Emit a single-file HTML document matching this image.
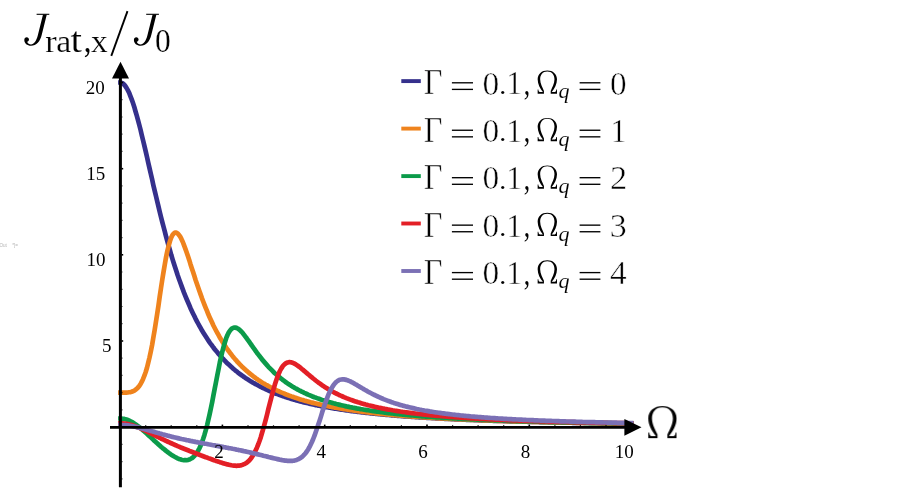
<!DOCTYPE html>
<html><head><meta charset="utf-8"><title>chart</title>
<style>
html,body{margin:0;padding:0;background:#fff;}
body{width:913px;height:489px;overflow:hidden;font-family:"Liberation Serif",serif;}
svg{display:block;position:absolute;left:0;top:0;font-family:"Liberation Serif",serif;}
</style></head><body>
<svg width="913" height="489" viewBox="0 0 913 489">
<rect width="913" height="489" fill="#fff"/>
<path d="M118.1 82.5 L120.1 82.5 L121.4 82.7 L122.7 83.4 L123.9 84.4 L125.2 85.9 L126.5 87.8 L127.8 90.1 L129.1 92.7 L130.3 95.8 L131.6 99.1 L132.9 102.8 L134.2 106.7 L135.4 111.0 L136.7 115.4 L138.0 120.1 L139.3 125.0 L140.6 130.0 L141.8 135.2 L143.1 140.5 L144.4 145.9 L145.7 151.4 L147.0 157.0 L148.2 162.5 L149.5 168.1 L150.8 173.7 L152.1 179.3 L153.3 184.9 L154.6 190.4 L155.9 195.8 L157.2 201.2 L158.5 206.6 L159.7 211.8 L161.0 217.0 L162.3 222.1 L163.6 227.0 L164.9 231.9 L166.1 236.7 L167.4 241.4 L168.7 246.0 L170.0 250.4 L171.2 254.8 L172.5 259.1 L173.8 263.2 L175.1 267.2 L176.4 271.2 L177.6 275.0 L178.9 278.7 L180.2 282.3 L181.5 285.9 L182.8 289.3 L184.0 292.6 L185.3 295.9 L186.6 299.0 L187.9 302.0 L189.2 305.0 L190.4 307.9 L191.7 310.7 L193.0 313.4 L194.3 316.0 L195.5 318.6 L196.8 321.1 L198.1 323.5 L199.4 325.8 L200.7 328.1 L201.9 330.3 L203.2 332.4 L204.5 334.5 L205.8 336.5 L207.1 338.5 L208.3 340.4 L209.6 342.3 L210.9 344.1 L212.2 345.8 L213.4 347.5 L214.7 349.2 L216.0 350.8 L217.3 352.3 L218.6 353.9 L219.8 355.3 L221.1 356.8 L222.4 358.2 L223.7 359.5 L225.0 360.9 L226.2 362.2 L227.5 363.4 L228.8 364.6 L230.1 365.8 L231.4 367.0 L232.6 368.1 L233.9 369.2 L235.2 370.3 L236.5 371.3 L237.7 372.3 L239.0 373.3 L240.3 374.3 L241.6 375.2 L242.9 376.1 L244.1 377.0 L245.4 377.9 L246.7 378.7 L248.0 379.6 L249.3 380.4 L250.5 381.2 L251.8 381.9 L253.1 382.7 L254.4 383.4 L255.6 384.1 L256.9 384.8 L258.2 385.5 L259.5 386.2 L260.8 386.9 L262.0 387.5 L263.3 388.1 L264.6 388.7 L265.9 389.3 L267.2 389.9 L268.4 390.5 L269.7 391.0 L271.0 391.6 L272.3 392.1 L273.5 392.6 L274.8 393.2 L276.1 393.7 L277.4 394.1 L278.7 394.6 L279.9 395.1 L281.2 395.6 L282.5 396.0 L283.8 396.4 L285.1 396.9 L286.3 397.3 L287.6 397.7 L288.9 398.1 L290.2 398.5 L291.5 398.9 L292.7 399.3 L294.0 399.7 L295.3 400.0 L296.6 400.4 L297.8 400.7 L299.1 401.1 L300.4 401.4 L301.7 401.8 L303.0 402.1 L304.2 402.4 L305.5 402.7 L306.8 403.0 L308.1 403.3 L309.4 403.6 L310.6 403.9 L311.9 404.2 L313.2 404.5 L314.5 404.8 L315.7 405.1 L317.0 405.3 L318.3 405.6 L319.6 405.8 L320.9 406.1 L322.1 406.3 L323.4 406.6 L324.7 406.8 L326.0 407.1 L327.3 407.3 L328.5 407.5 L329.8 407.8 L331.1 408.0 L332.4 408.2 L333.7 408.4 L334.9 408.6 L336.2 408.8 L337.5 409.0 L338.8 409.2 L340.0 409.4 L341.3 409.6 L342.6 409.8 L343.9 410.0 L345.2 410.2 L346.4 410.4 L347.7 410.5 L349.0 410.7 L350.3 410.9 L351.6 411.1 L352.8 411.2 L354.1 411.4 L355.4 411.5 L356.7 411.7 L357.9 411.9 L359.2 412.0 L360.5 412.2 L361.8 412.3 L363.1 412.5 L364.3 412.6 L365.6 412.8 L366.9 412.9 L368.2 413.0 L369.5 413.2 L370.7 413.3 L372.0 413.5 L373.3 413.6 L374.6 413.7 L375.9 413.8 L377.1 414.0 L378.4 414.1 L379.7 414.2 L381.0 414.3 L382.2 414.5 L383.5 414.6 L384.8 414.7 L386.1 414.8 L387.4 414.9 L388.6 415.0 L389.9 415.1 L391.2 415.3 L392.5 415.4 L393.8 415.5 L395.0 415.6 L396.3 415.7 L397.6 415.8 L398.9 415.9 L400.1 416.0 L401.4 416.1 L402.7 416.2 L404.0 416.3 L405.3 416.4 L406.5 416.5 L407.8 416.5 L409.1 416.6 L410.4 416.7 L411.7 416.8 L412.9 416.9 L414.2 417.0 L415.5 417.1 L416.8 417.2 L418.0 417.2 L419.3 417.3 L420.6 417.4 L421.9 417.5 L423.2 417.6 L424.4 417.6 L425.7 417.7 L427.0 417.8 L428.3 417.9 L429.6 417.9 L430.8 418.0 L432.1 418.1 L433.4 418.2 L434.7 418.2 L436.0 418.3 L437.2 418.4 L438.5 418.4 L439.8 418.5 L441.1 418.6 L442.3 418.6 L443.6 418.7 L444.9 418.8 L446.2 418.8 L447.5 418.9 L448.7 418.9 L450.0 419.0 L451.3 419.1 L452.6 419.1 L453.9 419.2 L455.1 419.3 L456.4 419.3 L457.7 419.4 L459.0 419.4 L460.2 419.5 L461.5 419.5 L462.8 419.6 L464.1 419.6 L465.4 419.7 L466.6 419.8 L467.9 419.8 L469.2 419.9 L470.5 419.9 L471.8 420.0 L473.0 420.0 L474.3 420.1 L475.6 420.1 L476.9 420.2 L478.1 420.2 L479.4 420.3 L480.7 420.3 L482.0 420.4 L483.3 420.4 L484.5 420.4 L485.8 420.5 L487.1 420.5 L488.4 420.6 L489.7 420.6 L490.9 420.7 L492.2 420.7 L493.5 420.8 L494.8 420.8 L496.1 420.8 L497.3 420.9 L498.6 420.9 L499.9 421.0 L501.2 421.0 L502.4 421.0 L503.7 421.1 L505.0 421.1 L506.3 421.2 L507.6 421.2 L508.8 421.2 L510.1 421.3 L511.4 421.3 L512.7 421.3 L514.0 421.4 L515.2 421.4 L516.5 421.5 L517.8 421.5 L519.1 421.5 L520.3 421.6 L521.6 421.6 L522.9 421.6 L524.2 421.7 L525.5 421.7 L526.7 421.7 L528.0 421.8 L529.3 421.8 L530.6 421.8 L531.9 421.9 L533.1 421.9 L534.4 421.9 L535.7 422.0 L537.0 422.0 L538.3 422.0 L539.5 422.1 L540.8 422.1 L542.1 422.1 L543.4 422.1 L544.6 422.2 L545.9 422.2 L547.2 422.2 L548.5 422.3 L549.8 422.3 L551.0 422.3 L552.3 422.3 L553.6 422.4 L554.9 422.4 L556.2 422.4 L557.4 422.4 L558.7 422.5 L560.0 422.5 L561.3 422.5 L562.5 422.6 L563.8 422.6 L565.1 422.6 L566.4 422.6 L567.7 422.7 L568.9 422.7 L570.2 422.7 L571.5 422.7 L572.8 422.8 L574.1 422.8 L575.3 422.8 L576.6 422.8 L577.9 422.9 L579.2 422.9 L580.4 422.9 L581.7 422.9 L583.0 422.9 L584.3 423.0 L585.6 423.0 L586.8 423.0 L588.1 423.0 L589.4 423.1 L590.7 423.1 L592.0 423.1 L593.2 423.1 L594.5 423.1 L595.8 423.2 L597.1 423.2 L598.4 423.2 L599.6 423.2 L600.9 423.2 L602.2 423.3 L603.5 423.3 L604.7 423.3 L606.0 423.3 L607.3 423.3 L608.6 423.4 L609.9 423.4 L611.1 423.4 L612.4 423.4 L613.7 423.4 L615.0 423.5 L616.3 423.5 L617.5 423.5 L618.8 423.5 L620.1 423.5 L621.4 423.5 L622.6 423.6 L623.9 423.6 L625.2 423.6 L626.5 423.6 L627.8 423.6 L629.0 423.7 L630.3 423.7 L631.6 423.7 L633.5 423.7" fill="none" stroke="#35308c" stroke-width="4.7" stroke-linecap="butt" stroke-linejoin="round"/>
<path d="M118.1 392.6 L120.1 392.6 L121.4 392.6 L122.7 392.6 L123.9 392.6 L125.2 392.6 L126.5 392.6 L127.8 392.5 L129.1 392.3 L130.3 392.1 L131.6 391.8 L132.9 391.3 L134.2 390.7 L135.4 389.9 L136.7 388.8 L138.0 387.5 L139.3 385.9 L140.6 384.0 L141.8 381.7 L143.1 378.9 L144.4 375.7 L145.7 372.0 L147.0 367.7 L148.2 362.9 L149.5 357.5 L150.8 351.5 L152.1 345.0 L153.3 337.9 L154.6 330.3 L155.9 322.2 L157.2 313.9 L158.5 305.3 L159.7 296.6 L161.0 288.0 L162.3 279.5 L163.6 271.5 L164.9 263.9 L166.1 257.0 L167.4 250.8 L168.7 245.5 L170.0 241.1 L171.2 237.6 L172.5 235.0 L173.8 233.4 L175.1 232.6 L176.4 232.6 L177.6 233.4 L178.9 234.8 L180.2 236.7 L181.5 239.2 L182.8 242.0 L184.0 245.2 L185.3 248.6 L186.6 252.3 L187.9 256.1 L189.2 259.9 L190.4 263.9 L191.7 267.9 L193.0 271.8 L194.3 275.8 L195.5 279.7 L196.8 283.5 L198.1 287.3 L199.4 291.0 L200.7 294.6 L201.9 298.1 L203.2 301.5 L204.5 304.9 L205.8 308.1 L207.1 311.2 L208.3 314.3 L209.6 317.2 L210.9 320.0 L212.2 322.8 L213.4 325.5 L214.7 328.0 L216.0 330.5 L217.3 332.9 L218.6 335.2 L219.8 337.5 L221.1 339.6 L222.4 341.7 L223.7 343.8 L225.0 345.7 L226.2 347.6 L227.5 349.5 L228.8 351.2 L230.1 353.0 L231.4 354.6 L232.6 356.2 L233.9 357.8 L235.2 359.3 L236.5 360.7 L237.7 362.2 L239.0 363.5 L240.3 364.9 L241.6 366.2 L242.9 367.4 L244.1 368.6 L245.4 369.8 L246.7 370.9 L248.0 372.0 L249.3 373.1 L250.5 374.2 L251.8 375.2 L253.1 376.2 L254.4 377.1 L255.6 378.1 L256.9 379.0 L258.2 379.9 L259.5 380.7 L260.8 381.6 L262.0 382.4 L263.3 383.2 L264.6 383.9 L265.9 384.7 L267.2 385.4 L268.4 386.1 L269.7 386.8 L271.0 387.5 L272.3 388.2 L273.5 388.8 L274.8 389.4 L276.1 390.1 L277.4 390.7 L278.7 391.2 L279.9 391.8 L281.2 392.4 L282.5 392.9 L283.8 393.4 L285.1 394.0 L286.3 394.5 L287.6 395.0 L288.9 395.5 L290.2 395.9 L291.5 396.4 L292.7 396.8 L294.0 397.3 L295.3 397.7 L296.6 398.1 L297.8 398.6 L299.1 399.0 L300.4 399.4 L301.7 399.8 L303.0 400.1 L304.2 400.5 L305.5 400.9 L306.8 401.2 L308.1 401.6 L309.4 401.9 L310.6 402.3 L311.9 402.6 L313.2 402.9 L314.5 403.2 L315.7 403.5 L317.0 403.8 L318.3 404.1 L319.6 404.4 L320.9 404.7 L322.1 405.0 L323.4 405.3 L324.7 405.6 L326.0 405.8 L327.3 406.1 L328.5 406.3 L329.8 406.6 L331.1 406.8 L332.4 407.1 L333.7 407.3 L334.9 407.6 L336.2 407.8 L337.5 408.0 L338.8 408.2 L340.0 408.5 L341.3 408.7 L342.6 408.9 L343.9 409.1 L345.2 409.3 L346.4 409.5 L347.7 409.7 L349.0 409.9 L350.3 410.1 L351.6 410.3 L352.8 410.5 L354.1 410.6 L355.4 410.8 L356.7 411.0 L357.9 411.2 L359.2 411.3 L360.5 411.5 L361.8 411.7 L363.1 411.8 L364.3 412.0 L365.6 412.1 L366.9 412.3 L368.2 412.4 L369.5 412.6 L370.7 412.7 L372.0 412.9 L373.3 413.0 L374.6 413.2 L375.9 413.3 L377.1 413.5 L378.4 413.6 L379.7 413.7 L381.0 413.9 L382.2 414.0 L383.5 414.1 L384.8 414.2 L386.1 414.4 L387.4 414.5 L388.6 414.6 L389.9 414.7 L391.2 414.8 L392.5 414.9 L393.8 415.1 L395.0 415.2 L396.3 415.3 L397.6 415.4 L398.9 415.5 L400.1 415.6 L401.4 415.7 L402.7 415.8 L404.0 415.9 L405.3 416.0 L406.5 416.1 L407.8 416.2 L409.1 416.3 L410.4 416.4 L411.7 416.5 L412.9 416.6 L414.2 416.7 L415.5 416.8 L416.8 416.9 L418.0 416.9 L419.3 417.0 L420.6 417.1 L421.9 417.2 L423.2 417.3 L424.4 417.4 L425.7 417.4 L427.0 417.5 L428.3 417.6 L429.6 417.7 L430.8 417.8 L432.1 417.8 L433.4 417.9 L434.7 418.0 L436.0 418.1 L437.2 418.1 L438.5 418.2 L439.8 418.3 L441.1 418.3 L442.3 418.4 L443.6 418.5 L444.9 418.6 L446.2 418.6 L447.5 418.7 L448.7 418.8 L450.0 418.8 L451.3 418.9 L452.6 418.9 L453.9 419.0 L455.1 419.1 L456.4 419.1 L457.7 419.2 L459.0 419.2 L460.2 419.3 L461.5 419.4 L462.8 419.4 L464.1 419.5 L465.4 419.5 L466.6 419.6 L467.9 419.6 L469.2 419.7 L470.5 419.8 L471.8 419.8 L473.0 419.9 L474.3 419.9 L475.6 420.0 L476.9 420.0 L478.1 420.1 L479.4 420.1 L480.7 420.2 L482.0 420.2 L483.3 420.3 L484.5 420.3 L485.8 420.4 L487.1 420.4 L488.4 420.5 L489.7 420.5 L490.9 420.5 L492.2 420.6 L493.5 420.6 L494.8 420.7 L496.1 420.7 L497.3 420.8 L498.6 420.8 L499.9 420.8 L501.2 420.9 L502.4 420.9 L503.7 421.0 L505.0 421.0 L506.3 421.1 L507.6 421.1 L508.8 421.1 L510.1 421.2 L511.4 421.2 L512.7 421.2 L514.0 421.3 L515.2 421.3 L516.5 421.4 L517.8 421.4 L519.1 421.4 L520.3 421.5 L521.6 421.5 L522.9 421.5 L524.2 421.6 L525.5 421.6 L526.7 421.6 L528.0 421.7 L529.3 421.7 L530.6 421.7 L531.9 421.8 L533.1 421.8 L534.4 421.8 L535.7 421.9 L537.0 421.9 L538.3 421.9 L539.5 422.0 L540.8 422.0 L542.1 422.0 L543.4 422.1 L544.6 422.1 L545.9 422.1 L547.2 422.2 L548.5 422.2 L549.8 422.2 L551.0 422.2 L552.3 422.3 L553.6 422.3 L554.9 422.3 L556.2 422.4 L557.4 422.4 L558.7 422.4 L560.0 422.4 L561.3 422.5 L562.5 422.5 L563.8 422.5 L565.1 422.5 L566.4 422.6 L567.7 422.6 L568.9 422.6 L570.2 422.7 L571.5 422.7 L572.8 422.7 L574.1 422.7 L575.3 422.7 L576.6 422.8 L577.9 422.8 L579.2 422.8 L580.4 422.8 L581.7 422.9 L583.0 422.9 L584.3 422.9 L585.6 422.9 L586.8 423.0 L588.1 423.0 L589.4 423.0 L590.7 423.0 L592.0 423.1 L593.2 423.1 L594.5 423.1 L595.8 423.1 L597.1 423.1 L598.4 423.2 L599.6 423.2 L600.9 423.2 L602.2 423.2 L603.5 423.2 L604.7 423.3 L606.0 423.3 L607.3 423.3 L608.6 423.3 L609.9 423.3 L611.1 423.4 L612.4 423.4 L613.7 423.4 L615.0 423.4 L616.3 423.4 L617.5 423.5 L618.8 423.5 L620.1 423.5 L621.4 423.5 L622.6 423.5 L623.9 423.5 L625.2 423.6 L626.5 423.6 L627.8 423.6 L629.0 423.6 L630.3 423.6 L631.6 423.7 L633.5 423.7" fill="none" stroke="#ef831d" stroke-width="4.7" stroke-linecap="butt" stroke-linejoin="round"/>
<path d="M118.1 418.5 L120.1 418.5 L121.4 418.5 L122.7 418.7 L123.9 418.9 L125.2 419.2 L126.5 419.6 L127.8 420.0 L129.1 420.6 L130.3 421.2 L131.6 421.8 L132.9 422.6 L134.2 423.4 L135.4 424.3 L136.7 425.2 L138.0 426.1 L139.3 427.1 L140.6 428.2 L141.8 429.3 L143.1 430.4 L144.4 431.5 L145.7 432.6 L147.0 433.8 L148.2 435.0 L149.5 436.2 L150.8 437.3 L152.1 438.5 L153.3 439.7 L154.6 440.9 L155.9 442.1 L157.2 443.2 L158.5 444.4 L159.7 445.5 L161.0 446.7 L162.3 447.8 L163.6 448.8 L164.9 449.9 L166.1 450.9 L167.4 451.9 L168.7 452.9 L170.0 453.8 L171.2 454.7 L172.5 455.5 L173.8 456.3 L175.1 457.0 L176.4 457.7 L177.6 458.3 L178.9 458.9 L180.2 459.3 L181.5 459.7 L182.8 460.0 L184.0 460.2 L185.3 460.2 L186.6 460.2 L187.9 460.0 L189.2 459.6 L190.4 459.0 L191.7 458.3 L193.0 457.3 L194.3 456.1 L195.5 454.6 L196.8 452.8 L198.1 450.7 L199.4 448.3 L200.7 445.5 L201.9 442.3 L203.2 438.7 L204.5 434.7 L205.8 430.2 L207.1 425.3 L208.3 420.0 L209.6 414.4 L210.9 408.3 L212.2 402.0 L213.4 395.5 L214.7 388.8 L216.0 382.1 L217.3 375.4 L218.6 368.9 L219.8 362.6 L221.1 356.7 L222.4 351.3 L223.7 346.4 L225.0 342.0 L226.2 338.2 L227.5 335.0 L228.8 332.4 L230.1 330.5 L231.4 329.0 L232.6 328.1 L233.9 327.6 L235.2 327.6 L236.5 327.9 L237.7 328.5 L239.0 329.4 L240.3 330.5 L241.6 331.8 L242.9 333.3 L244.1 334.9 L245.4 336.6 L246.7 338.3 L248.0 340.1 L249.3 341.9 L250.5 343.7 L251.8 345.5 L253.1 347.4 L254.4 349.2 L255.6 350.9 L256.9 352.7 L258.2 354.4 L259.5 356.1 L260.8 357.7 L262.0 359.4 L263.3 360.9 L264.6 362.4 L265.9 363.9 L267.2 365.4 L268.4 366.8 L269.7 368.1 L271.0 369.4 L272.3 370.7 L273.5 372.0 L274.8 373.2 L276.1 374.3 L277.4 375.5 L278.7 376.6 L279.9 377.6 L281.2 378.7 L282.5 379.7 L283.8 380.6 L285.1 381.6 L286.3 382.5 L287.6 383.4 L288.9 384.2 L290.2 385.1 L291.5 385.9 L292.7 386.7 L294.0 387.4 L295.3 388.2 L296.6 388.9 L297.8 389.6 L299.1 390.3 L300.4 390.9 L301.7 391.6 L303.0 392.2 L304.2 392.8 L305.5 393.4 L306.8 394.0 L308.1 394.6 L309.4 395.1 L310.6 395.6 L311.9 396.2 L313.2 396.7 L314.5 397.2 L315.7 397.6 L317.0 398.1 L318.3 398.6 L319.6 399.0 L320.9 399.5 L322.1 399.9 L323.4 400.3 L324.7 400.7 L326.0 401.1 L327.3 401.5 L328.5 401.9 L329.8 402.2 L331.1 402.6 L332.4 402.9 L333.7 403.3 L334.9 403.6 L336.2 404.0 L337.5 404.3 L338.8 404.6 L340.0 404.9 L341.3 405.2 L342.6 405.5 L343.9 405.8 L345.2 406.1 L346.4 406.4 L347.7 406.6 L349.0 406.9 L350.3 407.2 L351.6 407.4 L352.8 407.7 L354.1 407.9 L355.4 408.1 L356.7 408.4 L357.9 408.6 L359.2 408.8 L360.5 409.1 L361.8 409.3 L363.1 409.5 L364.3 409.7 L365.6 409.9 L366.9 410.1 L368.2 410.3 L369.5 410.5 L370.7 410.7 L372.0 410.9 L373.3 411.1 L374.6 411.3 L375.9 411.4 L377.1 411.6 L378.4 411.8 L379.7 412.0 L381.0 412.1 L382.2 412.3 L383.5 412.5 L384.8 412.6 L386.1 412.8 L387.4 412.9 L388.6 413.1 L389.9 413.2 L391.2 413.4 L392.5 413.5 L393.8 413.7 L395.0 413.8 L396.3 413.9 L397.6 414.1 L398.9 414.2 L400.1 414.3 L401.4 414.5 L402.7 414.6 L404.0 414.7 L405.3 414.8 L406.5 415.0 L407.8 415.1 L409.1 415.2 L410.4 415.3 L411.7 415.4 L412.9 415.5 L414.2 415.6 L415.5 415.7 L416.8 415.9 L418.0 416.0 L419.3 416.1 L420.6 416.2 L421.9 416.3 L423.2 416.4 L424.4 416.5 L425.7 416.6 L427.0 416.7 L428.3 416.8 L429.6 416.8 L430.8 416.9 L432.1 417.0 L433.4 417.1 L434.7 417.2 L436.0 417.3 L437.2 417.4 L438.5 417.5 L439.8 417.5 L441.1 417.6 L442.3 417.7 L443.6 417.8 L444.9 417.9 L446.2 417.9 L447.5 418.0 L448.7 418.1 L450.0 418.2 L451.3 418.2 L452.6 418.3 L453.9 418.4 L455.1 418.5 L456.4 418.5 L457.7 418.6 L459.0 418.7 L460.2 418.7 L461.5 418.8 L462.8 418.9 L464.1 418.9 L465.4 419.0 L466.6 419.1 L467.9 419.1 L469.2 419.2 L470.5 419.3 L471.8 419.3 L473.0 419.4 L474.3 419.4 L475.6 419.5 L476.9 419.6 L478.1 419.6 L479.4 419.7 L480.7 419.7 L482.0 419.8 L483.3 419.8 L484.5 419.9 L485.8 419.9 L487.1 420.0 L488.4 420.0 L489.7 420.1 L490.9 420.1 L492.2 420.2 L493.5 420.2 L494.8 420.3 L496.1 420.3 L497.3 420.4 L498.6 420.4 L499.9 420.5 L501.2 420.5 L502.4 420.6 L503.7 420.6 L505.0 420.7 L506.3 420.7 L507.6 420.8 L508.8 420.8 L510.1 420.9 L511.4 420.9 L512.7 420.9 L514.0 421.0 L515.2 421.0 L516.5 421.1 L517.8 421.1 L519.1 421.1 L520.3 421.2 L521.6 421.2 L522.9 421.3 L524.2 421.3 L525.5 421.3 L526.7 421.4 L528.0 421.4 L529.3 421.5 L530.6 421.5 L531.9 421.5 L533.1 421.6 L534.4 421.6 L535.7 421.6 L537.0 421.7 L538.3 421.7 L539.5 421.7 L540.8 421.8 L542.1 421.8 L543.4 421.8 L544.6 421.9 L545.9 421.9 L547.2 421.9 L548.5 422.0 L549.8 422.0 L551.0 422.0 L552.3 422.1 L553.6 422.1 L554.9 422.1 L556.2 422.2 L557.4 422.2 L558.7 422.2 L560.0 422.2 L561.3 422.3 L562.5 422.3 L563.8 422.3 L565.1 422.4 L566.4 422.4 L567.7 422.4 L568.9 422.4 L570.2 422.5 L571.5 422.5 L572.8 422.5 L574.1 422.6 L575.3 422.6 L576.6 422.6 L577.9 422.6 L579.2 422.7 L580.4 422.7 L581.7 422.7 L583.0 422.7 L584.3 422.8 L585.6 422.8 L586.8 422.8 L588.1 422.8 L589.4 422.9 L590.7 422.9 L592.0 422.9 L593.2 422.9 L594.5 422.9 L595.8 423.0 L597.1 423.0 L598.4 423.0 L599.6 423.0 L600.9 423.1 L602.2 423.1 L603.5 423.1 L604.7 423.1 L606.0 423.2 L607.3 423.2 L608.6 423.2 L609.9 423.2 L611.1 423.2 L612.4 423.3 L613.7 423.3 L615.0 423.3 L616.3 423.3 L617.5 423.3 L618.8 423.4 L620.1 423.4 L621.4 423.4 L622.6 423.4 L623.9 423.4 L625.2 423.5 L626.5 423.5 L627.8 423.5 L629.0 423.5 L630.3 423.5 L631.6 423.5 L633.5 423.5" fill="none" stroke="#0b9b4a" stroke-width="4.7" stroke-linecap="butt" stroke-linejoin="round"/>
<path d="M118.1 423.3 L120.1 423.3 L121.4 423.3 L122.7 423.4 L123.9 423.5 L125.2 423.6 L126.5 423.8 L127.8 424.1 L129.1 424.4 L130.3 424.7 L131.6 425.1 L132.9 425.5 L134.2 425.9 L135.4 426.4 L136.7 426.8 L138.0 427.4 L139.3 427.9 L140.6 428.4 L141.8 429.0 L143.1 429.6 L144.4 430.2 L145.7 430.8 L147.0 431.4 L148.2 432.1 L149.5 432.7 L150.8 433.4 L152.1 434.0 L153.3 434.6 L154.6 435.3 L155.9 435.9 L157.2 436.6 L158.5 437.2 L159.7 437.8 L161.0 438.5 L162.3 439.1 L163.6 439.7 L164.9 440.3 L166.1 440.9 L167.4 441.5 L168.7 442.1 L170.0 442.7 L171.2 443.3 L172.5 443.8 L173.8 444.4 L175.1 445.0 L176.4 445.5 L177.6 446.1 L178.9 446.6 L180.2 447.2 L181.5 447.7 L182.8 448.2 L184.0 448.8 L185.3 449.3 L186.6 449.8 L187.9 450.3 L189.2 450.8 L190.4 451.3 L191.7 451.8 L193.0 452.3 L194.3 452.8 L195.5 453.3 L196.8 453.8 L198.1 454.3 L199.4 454.8 L200.7 455.3 L201.9 455.7 L203.2 456.2 L204.5 456.7 L205.8 457.2 L207.1 457.6 L208.3 458.1 L209.6 458.6 L210.9 459.0 L212.2 459.5 L213.4 460.0 L214.7 460.4 L216.0 460.9 L217.3 461.3 L218.6 461.7 L219.8 462.2 L221.1 462.6 L222.4 463.0 L223.7 463.4 L225.0 463.7 L226.2 464.1 L227.5 464.4 L228.8 464.7 L230.1 465.0 L231.4 465.3 L232.6 465.5 L233.9 465.6 L235.2 465.7 L236.5 465.8 L237.7 465.7 L239.0 465.6 L240.3 465.4 L241.6 465.1 L242.9 464.7 L244.1 464.2 L245.4 463.5 L246.7 462.7 L248.0 461.6 L249.3 460.4 L250.5 459.0 L251.8 457.3 L253.1 455.3 L254.4 453.1 L255.6 450.5 L256.9 447.7 L258.2 444.5 L259.5 441.0 L260.8 437.2 L262.0 433.0 L263.3 428.6 L264.6 423.9 L265.9 419.1 L267.2 414.0 L268.4 408.9 L269.7 403.8 L271.0 398.8 L272.3 393.9 L273.5 389.2 L274.8 384.8 L276.1 380.8 L277.4 377.1 L278.7 373.8 L279.9 371.0 L281.2 368.6 L282.5 366.6 L283.8 365.0 L285.1 363.9 L286.3 363.0 L287.6 362.5 L288.9 362.2 L290.2 362.2 L291.5 362.4 L292.7 362.8 L294.0 363.4 L295.3 364.1 L296.6 364.9 L297.8 365.8 L299.1 366.7 L300.4 367.7 L301.7 368.8 L303.0 369.8 L304.2 370.9 L305.5 372.0 L306.8 373.1 L308.1 374.2 L309.4 375.3 L310.6 376.4 L311.9 377.4 L313.2 378.5 L314.5 379.5 L315.7 380.5 L317.0 381.5 L318.3 382.5 L319.6 383.4 L320.9 384.3 L322.1 385.2 L323.4 386.1 L324.7 386.9 L326.0 387.7 L327.3 388.5 L328.5 389.3 L329.8 390.0 L331.1 390.8 L332.4 391.5 L333.7 392.2 L334.9 392.9 L336.2 393.5 L337.5 394.1 L338.8 394.8 L340.0 395.4 L341.3 395.9 L342.6 396.5 L343.9 397.1 L345.2 397.6 L346.4 398.1 L347.7 398.6 L349.0 399.1 L350.3 399.6 L351.6 400.1 L352.8 400.5 L354.1 401.0 L355.4 401.4 L356.7 401.8 L357.9 402.2 L359.2 402.6 L360.5 403.0 L361.8 403.4 L363.1 403.8 L364.3 404.1 L365.6 404.5 L366.9 404.8 L368.2 405.2 L369.5 405.5 L370.7 405.8 L372.0 406.1 L373.3 406.4 L374.6 406.7 L375.9 407.0 L377.1 407.3 L378.4 407.6 L379.7 407.8 L381.0 408.1 L382.2 408.4 L383.5 408.6 L384.8 408.9 L386.1 409.1 L387.4 409.4 L388.6 409.6 L389.9 409.8 L391.2 410.0 L392.5 410.3 L393.8 410.5 L395.0 410.7 L396.3 410.9 L397.6 411.1 L398.9 411.3 L400.1 411.5 L401.4 411.7 L402.7 411.9 L404.0 412.0 L405.3 412.2 L406.5 412.4 L407.8 412.6 L409.1 412.7 L410.4 412.9 L411.7 413.1 L412.9 413.2 L414.2 413.4 L415.5 413.5 L416.8 413.7 L418.0 413.8 L419.3 414.0 L420.6 414.1 L421.9 414.3 L423.2 414.4 L424.4 414.6 L425.7 414.7 L427.0 414.8 L428.3 414.9 L429.6 415.1 L430.8 415.2 L432.1 415.3 L433.4 415.4 L434.7 415.6 L436.0 415.7 L437.2 415.8 L438.5 415.9 L439.8 416.0 L441.1 416.1 L442.3 416.2 L443.6 416.3 L444.9 416.5 L446.2 416.6 L447.5 416.7 L448.7 416.8 L450.0 416.9 L451.3 417.0 L452.6 417.0 L453.9 417.1 L455.1 417.2 L456.4 417.3 L457.7 417.4 L459.0 417.5 L460.2 417.6 L461.5 417.7 L462.8 417.8 L464.1 417.8 L465.4 417.9 L466.6 418.0 L467.9 418.1 L469.2 418.2 L470.5 418.3 L471.8 418.3 L473.0 418.4 L474.3 418.5 L475.6 418.6 L476.9 418.6 L478.1 418.7 L479.4 418.8 L480.7 418.8 L482.0 418.9 L483.3 419.0 L484.5 419.0 L485.8 419.1 L487.1 419.2 L488.4 419.2 L489.7 419.3 L490.9 419.4 L492.2 419.4 L493.5 419.5 L494.8 419.6 L496.1 419.6 L497.3 419.7 L498.6 419.7 L499.9 419.8 L501.2 419.8 L502.4 419.9 L503.7 420.0 L505.0 420.0 L506.3 420.1 L507.6 420.1 L508.8 420.2 L510.1 420.2 L511.4 420.3 L512.7 420.3 L514.0 420.4 L515.2 420.4 L516.5 420.5 L517.8 420.5 L519.1 420.6 L520.3 420.6 L521.6 420.7 L522.9 420.7 L524.2 420.8 L525.5 420.8 L526.7 420.9 L528.0 420.9 L529.3 420.9 L530.6 421.0 L531.9 421.0 L533.1 421.1 L534.4 421.1 L535.7 421.2 L537.0 421.2 L538.3 421.2 L539.5 421.3 L540.8 421.3 L542.1 421.4 L543.4 421.4 L544.6 421.4 L545.9 421.5 L547.2 421.5 L548.5 421.6 L549.8 421.6 L551.0 421.6 L552.3 421.7 L553.6 421.7 L554.9 421.7 L556.2 421.8 L557.4 421.8 L558.7 421.8 L560.0 421.9 L561.3 421.9 L562.5 421.9 L563.8 422.0 L565.1 422.0 L566.4 422.0 L567.7 422.1 L568.9 422.1 L570.2 422.1 L571.5 422.2 L572.8 422.2 L574.1 422.2 L575.3 422.3 L576.6 422.3 L577.9 422.3 L579.2 422.4 L580.4 422.4 L581.7 422.4 L583.0 422.4 L584.3 422.5 L585.6 422.5 L586.8 422.5 L588.1 422.5 L589.4 422.6 L590.7 422.6 L592.0 422.6 L593.2 422.7 L594.5 422.7 L595.8 422.7 L597.1 422.7 L598.4 422.8 L599.6 422.8 L600.9 422.8 L602.2 422.8 L603.5 422.9 L604.7 422.9 L606.0 422.9 L607.3 422.9 L608.6 423.0 L609.9 423.0 L611.1 423.0 L612.4 423.0 L613.7 423.1 L615.0 423.1 L616.3 423.1 L617.5 423.1 L618.8 423.1 L620.1 423.2 L621.4 423.2 L622.6 423.2 L623.9 423.2 L625.2 423.3 L626.5 423.3 L627.8 423.3 L629.0 423.3 L630.3 423.3 L631.6 423.4 L633.5 423.4" fill="none" stroke="#e31f26" stroke-width="4.7" stroke-linecap="butt" stroke-linejoin="round"/>
<path d="M118.1 424.9 L120.1 424.9 L121.4 425.0 L122.7 425.0 L123.9 425.1 L125.2 425.2 L126.5 425.3 L127.8 425.4 L129.1 425.6 L130.3 425.8 L131.6 426.0 L132.9 426.2 L134.2 426.5 L135.4 426.8 L136.7 427.1 L138.0 427.4 L139.3 427.7 L140.6 428.0 L141.8 428.4 L143.1 428.7 L144.4 429.1 L145.7 429.4 L147.0 429.8 L148.2 430.2 L149.5 430.5 L150.8 430.9 L152.1 431.3 L153.3 431.6 L154.6 432.0 L155.9 432.4 L157.2 432.8 L158.5 433.1 L159.7 433.5 L161.0 433.8 L162.3 434.2 L163.6 434.5 L164.9 434.9 L166.1 435.2 L167.4 435.6 L168.7 435.9 L170.0 436.2 L171.2 436.6 L172.5 436.9 L173.8 437.2 L175.1 437.5 L176.4 437.8 L177.6 438.1 L178.9 438.4 L180.2 438.7 L181.5 439.0 L182.8 439.2 L184.0 439.5 L185.3 439.8 L186.6 440.1 L187.9 440.3 L189.2 440.6 L190.4 440.9 L191.7 441.1 L193.0 441.4 L194.3 441.6 L195.5 441.9 L196.8 442.1 L198.1 442.4 L199.4 442.6 L200.7 442.8 L201.9 443.1 L203.2 443.3 L204.5 443.6 L205.8 443.8 L207.1 444.0 L208.3 444.3 L209.6 444.5 L210.9 444.7 L212.2 445.0 L213.4 445.2 L214.7 445.4 L216.0 445.7 L217.3 445.9 L218.6 446.1 L219.8 446.4 L221.1 446.6 L222.4 446.8 L223.7 447.1 L225.0 447.3 L226.2 447.6 L227.5 447.8 L228.8 448.1 L230.1 448.3 L231.4 448.5 L232.6 448.8 L233.9 449.0 L235.2 449.3 L236.5 449.6 L237.7 449.8 L239.0 450.1 L240.3 450.3 L241.6 450.6 L242.9 450.9 L244.1 451.2 L245.4 451.4 L246.7 451.7 L248.0 452.0 L249.3 452.3 L250.5 452.6 L251.8 452.9 L253.1 453.2 L254.4 453.5 L255.6 453.8 L256.9 454.1 L258.2 454.4 L259.5 454.7 L260.8 455.0 L262.0 455.3 L263.3 455.7 L264.6 456.0 L265.9 456.3 L267.2 456.6 L268.4 457.0 L269.7 457.3 L271.0 457.6 L272.3 457.9 L273.5 458.2 L274.8 458.5 L276.1 458.8 L277.4 459.1 L278.7 459.4 L279.9 459.7 L281.2 459.9 L282.5 460.2 L283.8 460.4 L285.1 460.6 L286.3 460.7 L287.6 460.8 L288.9 460.9 L290.2 460.9 L291.5 460.9 L292.7 460.8 L294.0 460.6 L295.3 460.3 L296.6 459.9 L297.8 459.4 L299.1 458.8 L300.4 458.0 L301.7 457.1 L303.0 456.0 L304.2 454.7 L305.5 453.2 L306.8 451.5 L308.1 449.5 L309.4 447.2 L310.6 444.7 L311.9 442.0 L313.2 439.0 L314.5 435.7 L315.7 432.2 L317.0 428.5 L318.3 424.6 L319.6 420.7 L320.9 416.6 L322.1 412.6 L323.4 408.6 L324.7 404.8 L326.0 401.1 L327.3 397.7 L328.5 394.5 L329.8 391.6 L331.1 389.1 L332.4 386.8 L333.7 384.9 L334.9 383.3 L336.2 382.0 L337.5 381.0 L338.8 380.2 L340.0 379.7 L341.3 379.5 L342.6 379.3 L343.9 379.4 L345.2 379.6 L346.4 379.9 L347.7 380.3 L349.0 380.9 L350.3 381.4 L351.6 382.1 L352.8 382.7 L354.1 383.4 L355.4 384.2 L356.7 384.9 L357.9 385.7 L359.2 386.4 L360.5 387.2 L361.8 388.0 L363.1 388.7 L364.3 389.5 L365.6 390.2 L366.9 390.9 L368.2 391.7 L369.5 392.4 L370.7 393.0 L372.0 393.7 L373.3 394.4 L374.6 395.0 L375.9 395.6 L377.1 396.3 L378.4 396.8 L379.7 397.4 L381.0 398.0 L382.2 398.5 L383.5 399.1 L384.8 399.6 L386.1 400.1 L387.4 400.6 L388.6 401.1 L389.9 401.5 L391.2 402.0 L392.5 402.4 L393.8 402.9 L395.0 403.3 L396.3 403.7 L397.6 404.1 L398.9 404.5 L400.1 404.9 L401.4 405.2 L402.7 405.6 L404.0 405.9 L405.3 406.3 L406.5 406.6 L407.8 406.9 L409.1 407.2 L410.4 407.5 L411.7 407.8 L412.9 408.1 L414.2 408.4 L415.5 408.7 L416.8 409.0 L418.0 409.2 L419.3 409.5 L420.6 409.7 L421.9 410.0 L423.2 410.2 L424.4 410.5 L425.7 410.7 L427.0 410.9 L428.3 411.1 L429.6 411.4 L430.8 411.6 L432.1 411.8 L433.4 412.0 L434.7 412.2 L436.0 412.4 L437.2 412.5 L438.5 412.7 L439.8 412.9 L441.1 413.1 L442.3 413.3 L443.6 413.4 L444.9 413.6 L446.2 413.8 L447.5 413.9 L448.7 414.1 L450.0 414.2 L451.3 414.4 L452.6 414.5 L453.9 414.7 L455.1 414.8 L456.4 415.0 L457.7 415.1 L459.0 415.2 L460.2 415.4 L461.5 415.5 L462.8 415.6 L464.1 415.8 L465.4 415.9 L466.6 416.0 L467.9 416.1 L469.2 416.2 L470.5 416.4 L471.8 416.5 L473.0 416.6 L474.3 416.7 L475.6 416.8 L476.9 416.9 L478.1 417.0 L479.4 417.1 L480.7 417.2 L482.0 417.3 L483.3 417.4 L484.5 417.5 L485.8 417.6 L487.1 417.7 L488.4 417.8 L489.7 417.9 L490.9 418.0 L492.2 418.0 L493.5 418.1 L494.8 418.2 L496.1 418.3 L497.3 418.4 L498.6 418.5 L499.9 418.5 L501.2 418.6 L502.4 418.7 L503.7 418.8 L505.0 418.8 L506.3 418.9 L507.6 419.0 L508.8 419.1 L510.1 419.1 L511.4 419.2 L512.7 419.3 L514.0 419.3 L515.2 419.4 L516.5 419.5 L517.8 419.5 L519.1 419.6 L520.3 419.7 L521.6 419.7 L522.9 419.8 L524.2 419.8 L525.5 419.9 L526.7 420.0 L528.0 420.0 L529.3 420.1 L530.6 420.1 L531.9 420.2 L533.1 420.2 L534.4 420.3 L535.7 420.4 L537.0 420.4 L538.3 420.5 L539.5 420.5 L540.8 420.6 L542.1 420.6 L543.4 420.7 L544.6 420.7 L545.9 420.8 L547.2 420.8 L548.5 420.9 L549.8 420.9 L551.0 420.9 L552.3 421.0 L553.6 421.0 L554.9 421.1 L556.2 421.1 L557.4 421.2 L558.7 421.2 L560.0 421.3 L561.3 421.3 L562.5 421.3 L563.8 421.4 L565.1 421.4 L566.4 421.5 L567.7 421.5 L568.9 421.5 L570.2 421.6 L571.5 421.6 L572.8 421.7 L574.1 421.7 L575.3 421.7 L576.6 421.8 L577.9 421.8 L579.2 421.8 L580.4 421.9 L581.7 421.9 L583.0 422.0 L584.3 422.0 L585.6 422.0 L586.8 422.1 L588.1 422.1 L589.4 422.1 L590.7 422.2 L592.0 422.2 L593.2 422.2 L594.5 422.2 L595.8 422.3 L597.1 422.3 L598.4 422.3 L599.6 422.4 L600.9 422.4 L602.2 422.4 L603.5 422.5 L604.7 422.5 L606.0 422.5 L607.3 422.6 L608.6 422.6 L609.9 422.6 L611.1 422.6 L612.4 422.7 L613.7 422.7 L615.0 422.7 L616.3 422.7 L617.5 422.8 L618.8 422.8 L620.1 422.8 L621.4 422.8 L622.6 422.9 L623.9 422.9 L625.2 422.9 L626.5 422.9 L627.8 423.0 L629.0 423.0 L630.3 423.0 L631.6 423.0 L633.5 423.0" fill="none" stroke="#7b70b5" stroke-width="4.7" stroke-linecap="butt" stroke-linejoin="round"/>
<line x1="120.4" y1="78" x2="120.4" y2="487.3" stroke="#000" stroke-width="3"/>
<line x1="110" y1="427.3" x2="625" y2="427.3" stroke="#000" stroke-width="2.8"/>
<polygon points="120.5,61.8 112,78.6 129,78.6" fill="#000"/>
<polygon points="641.5,427.3 624.4,418.9 624.4,435.7" fill="#000"/>
<line x1="145.7" y1="426.2" x2="145.7" y2="425.3" stroke="#000" stroke-width="1.2"/>
<line x1="171.2" y1="426.2" x2="171.2" y2="425.3" stroke="#000" stroke-width="1.2"/>
<line x1="196.8" y1="426.2" x2="196.8" y2="425.3" stroke="#000" stroke-width="1.2"/>
<line x1="222.4" y1="426.2" x2="222.4" y2="424.6" stroke="#000" stroke-width="1.6"/>
<line x1="248.0" y1="426.2" x2="248.0" y2="425.3" stroke="#000" stroke-width="1.2"/>
<line x1="273.5" y1="426.2" x2="273.5" y2="425.3" stroke="#000" stroke-width="1.2"/>
<line x1="299.1" y1="426.2" x2="299.1" y2="425.3" stroke="#000" stroke-width="1.2"/>
<line x1="324.7" y1="426.2" x2="324.7" y2="424.6" stroke="#000" stroke-width="1.6"/>
<line x1="350.3" y1="426.2" x2="350.3" y2="425.3" stroke="#000" stroke-width="1.2"/>
<line x1="375.9" y1="426.2" x2="375.9" y2="425.3" stroke="#000" stroke-width="1.2"/>
<line x1="401.4" y1="426.2" x2="401.4" y2="425.3" stroke="#000" stroke-width="1.2"/>
<line x1="427.0" y1="426.2" x2="427.0" y2="424.6" stroke="#000" stroke-width="1.6"/>
<line x1="452.6" y1="426.2" x2="452.6" y2="425.3" stroke="#000" stroke-width="1.2"/>
<line x1="478.1" y1="426.2" x2="478.1" y2="425.3" stroke="#000" stroke-width="1.2"/>
<line x1="503.7" y1="426.2" x2="503.7" y2="425.3" stroke="#000" stroke-width="1.2"/>
<line x1="529.3" y1="426.2" x2="529.3" y2="424.6" stroke="#000" stroke-width="1.6"/>
<line x1="554.9" y1="426.2" x2="554.9" y2="425.3" stroke="#000" stroke-width="1.2"/>
<line x1="580.4" y1="426.2" x2="580.4" y2="425.3" stroke="#000" stroke-width="1.2"/>
<line x1="606.0" y1="426.2" x2="606.0" y2="425.3" stroke="#000" stroke-width="1.2"/>
<line x1="121.6" y1="478.8" x2="122.4" y2="478.8" stroke="#000" stroke-width="1.2"/>
<line x1="121.6" y1="461.6" x2="122.4" y2="461.6" stroke="#000" stroke-width="1.2"/>
<line x1="121.6" y1="444.3" x2="122.4" y2="444.3" stroke="#000" stroke-width="1.2"/>
<line x1="121.6" y1="409.9" x2="122.4" y2="409.9" stroke="#000" stroke-width="1.2"/>
<line x1="121.6" y1="392.6" x2="122.4" y2="392.6" stroke="#000" stroke-width="1.2"/>
<line x1="121.6" y1="375.4" x2="122.4" y2="375.4" stroke="#000" stroke-width="1.2"/>
<line x1="121.6" y1="358.2" x2="122.4" y2="358.2" stroke="#000" stroke-width="1.2"/>
<line x1="121.6" y1="341.0" x2="123.2" y2="341.0" stroke="#000" stroke-width="1.6"/>
<line x1="121.6" y1="323.7" x2="122.4" y2="323.7" stroke="#000" stroke-width="1.2"/>
<line x1="121.6" y1="306.5" x2="122.4" y2="306.5" stroke="#000" stroke-width="1.2"/>
<line x1="121.6" y1="289.3" x2="122.4" y2="289.3" stroke="#000" stroke-width="1.2"/>
<line x1="121.6" y1="272.0" x2="122.4" y2="272.0" stroke="#000" stroke-width="1.2"/>
<line x1="121.6" y1="254.8" x2="123.2" y2="254.8" stroke="#000" stroke-width="1.6"/>
<line x1="121.6" y1="237.6" x2="122.4" y2="237.6" stroke="#000" stroke-width="1.2"/>
<line x1="121.6" y1="220.3" x2="122.4" y2="220.3" stroke="#000" stroke-width="1.2"/>
<line x1="121.6" y1="203.1" x2="122.4" y2="203.1" stroke="#000" stroke-width="1.2"/>
<line x1="121.6" y1="185.9" x2="122.4" y2="185.9" stroke="#000" stroke-width="1.2"/>
<line x1="121.6" y1="168.7" x2="123.2" y2="168.7" stroke="#000" stroke-width="1.6"/>
<line x1="121.6" y1="151.4" x2="122.4" y2="151.4" stroke="#000" stroke-width="1.2"/>
<line x1="121.6" y1="134.2" x2="122.4" y2="134.2" stroke="#000" stroke-width="1.2"/>
<line x1="121.6" y1="117.0" x2="122.4" y2="117.0" stroke="#000" stroke-width="1.2"/>
<line x1="121.6" y1="99.7" x2="122.4" y2="99.7" stroke="#000" stroke-width="1.2"/>
<line x1="121.6" y1="82.5" x2="123.2" y2="82.5" stroke="#000" stroke-width="1.6"/>
<g opacity="0.999">
<text x="219.05" y="458.2" font-size="19" text-anchor="middle">2</text>
<text x="321.25" y="458.2" font-size="19" text-anchor="middle">4</text>
<text x="423.0" y="458.2" font-size="19" text-anchor="middle">6</text>
<text x="525.5" y="458.2" font-size="19" text-anchor="middle">8</text>
<text x="624.3" y="458.2" font-size="19" text-anchor="middle">10</text>
<text x="95.2" y="93.8" font-size="19" text-anchor="middle">20</text>
<text x="95.8" y="180.0" font-size="19" text-anchor="middle">15</text>
<text x="95.9" y="266.1" font-size="19" text-anchor="middle">10</text>
<text x="106.85" y="352.3" font-size="19" text-anchor="middle">5</text>
<line x1="401.3" y1="81.1" x2="420.8" y2="81.1" stroke="#35308c" stroke-width="3.9"/>
<text transform="matrix(0.8074 0 0 0.8782 423.67 94.30)" font-size="40" fill="#000" stroke="#fff" stroke-width="0.59">Γ</text>
<rect x="451.9" y="82.12" width="21.1" height="1.35" fill="#000"/>
<rect x="451.9" y="88.72" width="21.1" height="1.35" fill="#000"/>
<rect x="579.6" y="82.12" width="20.8" height="1.35" fill="#000"/>
<rect x="579.6" y="88.72" width="20.8" height="1.35" fill="#000"/>
<text transform="matrix(0.8376 0 0 0.8632 482.42 94.56)" font-size="40" fill="#000" stroke="#fff" stroke-width="0.59">0</text>
<text transform="matrix(0.6982 0 0 0.6347 499.16 94.04)" font-size="40" fill="#000">.</text>
<text transform="matrix(0.7953 0 0 0.8445 506.20 94.30)" font-size="40" fill="#000" stroke="#fff" stroke-width="0.61">1</text>
<text transform="matrix(0.6379 0 0 0.8663 523.83 94.77)" font-size="40" fill="#000">,</text>
<path aria-label="Ω" transform="matrix(0.0900 0 0 0.0901 530.00 64.01)" d="M85 330 L85 283 L93 283 C94 301 98 311 110 311 L143 311 C112 272 85 225 85 170 C85 110 130 72 192 72 C254 72 300 110 300 170 C300 225 273 272 242 311 L275 311 C287 311 291 301 292 283 L300 283 L300 330 L230 330 L230 300 C245 262 272 222 272 170 C272 120 245 82 192 82 C140 82 113 120 113 170 C113 222 140 262 155 300 L155 330 Z" fill="#000"/>
<text transform="matrix(0.5515 0 0 0.5401 558.53 98.24)" font-size="40" font-style="italic" fill="#000" stroke="#fff" stroke-width="0.18">q</text>
<text transform="matrix(0.8317 0 0 0.8632 610.03 94.56)" font-size="40" fill="#000" stroke="#fff" stroke-width="0.59">0</text>
<line x1="401.3" y1="128.6" x2="420.8" y2="128.6" stroke="#ef831d" stroke-width="3.9"/>
<text transform="matrix(0.8074 0 0 0.8782 423.67 141.75)" font-size="40" fill="#000" stroke="#fff" stroke-width="0.59">Γ</text>
<rect x="451.9" y="129.57" width="21.1" height="1.35" fill="#000"/>
<rect x="451.9" y="136.17" width="21.1" height="1.35" fill="#000"/>
<rect x="579.6" y="129.57" width="20.8" height="1.35" fill="#000"/>
<rect x="579.6" y="136.17" width="20.8" height="1.35" fill="#000"/>
<text transform="matrix(0.8376 0 0 0.8632 482.42 142.01)" font-size="40" fill="#000" stroke="#fff" stroke-width="0.59">0</text>
<text transform="matrix(0.6982 0 0 0.6347 499.16 141.49)" font-size="40" fill="#000">.</text>
<text transform="matrix(0.7953 0 0 0.8445 506.20 141.75)" font-size="40" fill="#000" stroke="#fff" stroke-width="0.61">1</text>
<text transform="matrix(0.6379 0 0 0.8663 523.83 142.22)" font-size="40" fill="#000">,</text>
<path aria-label="Ω" transform="matrix(0.0900 0 0 0.0901 530.00 111.46)" d="M85 330 L85 283 L93 283 C94 301 98 311 110 311 L143 311 C112 272 85 225 85 170 C85 110 130 72 192 72 C254 72 300 110 300 170 C300 225 273 272 242 311 L275 311 C287 311 291 301 292 283 L300 283 L300 330 L230 330 L230 300 C245 262 272 222 272 170 C272 120 245 82 192 82 C140 82 113 120 113 170 C113 222 140 262 155 300 L155 330 Z" fill="#000"/>
<text transform="matrix(0.5515 0 0 0.5401 558.53 145.69)" font-size="40" font-style="italic" fill="#000" stroke="#fff" stroke-width="0.18">q</text>
<text transform="matrix(0.7953 0 0 0.8445 610.50 141.75)" font-size="40" fill="#000" stroke="#fff" stroke-width="0.61">1</text>
<line x1="401.3" y1="176.1" x2="420.8" y2="176.1" stroke="#0b9b4a" stroke-width="3.9"/>
<text transform="matrix(0.8074 0 0 0.8782 423.67 189.20)" font-size="40" fill="#000" stroke="#fff" stroke-width="0.59">Γ</text>
<rect x="451.9" y="177.02" width="21.1" height="1.35" fill="#000"/>
<rect x="451.9" y="183.62" width="21.1" height="1.35" fill="#000"/>
<rect x="579.6" y="177.02" width="20.8" height="1.35" fill="#000"/>
<rect x="579.6" y="183.62" width="20.8" height="1.35" fill="#000"/>
<text transform="matrix(0.8376 0 0 0.8632 482.42 189.46)" font-size="40" fill="#000" stroke="#fff" stroke-width="0.59">0</text>
<text transform="matrix(0.6982 0 0 0.6347 499.16 188.94)" font-size="40" fill="#000">.</text>
<text transform="matrix(0.7953 0 0 0.8445 506.20 189.20)" font-size="40" fill="#000" stroke="#fff" stroke-width="0.61">1</text>
<text transform="matrix(0.6379 0 0 0.8663 523.83 189.67)" font-size="40" fill="#000">,</text>
<path aria-label="Ω" transform="matrix(0.0900 0 0 0.0901 530.00 158.91)" d="M85 330 L85 283 L93 283 C94 301 98 311 110 311 L143 311 C112 272 85 225 85 170 C85 110 130 72 192 72 C254 72 300 110 300 170 C300 225 273 272 242 311 L275 311 C287 311 291 301 292 283 L300 283 L300 330 L230 330 L230 300 C245 262 272 222 272 170 C272 120 245 82 192 82 C140 82 113 120 113 170 C113 222 140 262 155 300 L155 330 Z" fill="#000"/>
<text transform="matrix(0.5515 0 0 0.5401 558.53 193.14)" font-size="40" font-style="italic" fill="#000" stroke="#fff" stroke-width="0.18">q</text>
<text transform="matrix(0.8606 0 0 0.8496 610.09 189.20)" font-size="40" fill="#000" stroke="#fff" stroke-width="0.58">2</text>
<line x1="401.3" y1="223.5" x2="420.8" y2="223.5" stroke="#e31f26" stroke-width="3.9"/>
<text transform="matrix(0.8074 0 0 0.8782 423.67 236.65)" font-size="40" fill="#000" stroke="#fff" stroke-width="0.59">Γ</text>
<rect x="451.9" y="224.47" width="21.1" height="1.35" fill="#000"/>
<rect x="451.9" y="231.07" width="21.1" height="1.35" fill="#000"/>
<rect x="579.6" y="224.47" width="20.8" height="1.35" fill="#000"/>
<rect x="579.6" y="231.07" width="20.8" height="1.35" fill="#000"/>
<text transform="matrix(0.8376 0 0 0.8632 482.42 236.91)" font-size="40" fill="#000" stroke="#fff" stroke-width="0.59">0</text>
<text transform="matrix(0.6982 0 0 0.6347 499.16 236.39)" font-size="40" fill="#000">.</text>
<text transform="matrix(0.7953 0 0 0.8445 506.20 236.65)" font-size="40" fill="#000" stroke="#fff" stroke-width="0.61">1</text>
<text transform="matrix(0.6379 0 0 0.8663 523.83 237.12)" font-size="40" fill="#000">,</text>
<path aria-label="Ω" transform="matrix(0.0900 0 0 0.0901 530.00 206.36)" d="M85 330 L85 283 L93 283 C94 301 98 311 110 311 L143 311 C112 272 85 225 85 170 C85 110 130 72 192 72 C254 72 300 110 300 170 C300 225 273 272 242 311 L275 311 C287 311 291 301 292 283 L300 283 L300 330 L230 330 L230 300 C245 262 272 222 272 170 C272 120 245 82 192 82 C140 82 113 120 113 170 C113 222 140 262 155 300 L155 330 Z" fill="#000"/>
<text transform="matrix(0.5515 0 0 0.5401 558.53 240.59)" font-size="40" font-style="italic" fill="#000" stroke="#fff" stroke-width="0.18">q</text>
<text transform="matrix(0.8473 0 0 0.8670 609.78 236.91)" font-size="40" fill="#000" stroke="#fff" stroke-width="0.58">3</text>
<line x1="401.3" y1="271.0" x2="420.8" y2="271.0" stroke="#7b70b5" stroke-width="3.9"/>
<text transform="matrix(0.8074 0 0 0.8782 423.67 284.10)" font-size="40" fill="#000" stroke="#fff" stroke-width="0.59">Γ</text>
<rect x="451.9" y="271.92" width="21.1" height="1.35" fill="#000"/>
<rect x="451.9" y="278.52" width="21.1" height="1.35" fill="#000"/>
<rect x="579.6" y="271.92" width="20.8" height="1.35" fill="#000"/>
<rect x="579.6" y="278.52" width="20.8" height="1.35" fill="#000"/>
<text transform="matrix(0.8376 0 0 0.8632 482.42 284.36)" font-size="40" fill="#000" stroke="#fff" stroke-width="0.59">0</text>
<text transform="matrix(0.6982 0 0 0.6347 499.16 283.84)" font-size="40" fill="#000">.</text>
<text transform="matrix(0.7953 0 0 0.8445 506.20 284.10)" font-size="40" fill="#000" stroke="#fff" stroke-width="0.61">1</text>
<text transform="matrix(0.6379 0 0 0.8663 523.83 284.57)" font-size="40" fill="#000">,</text>
<path aria-label="Ω" transform="matrix(0.0900 0 0 0.0901 530.00 253.81)" d="M85 330 L85 283 L93 283 C94 301 98 311 110 311 L143 311 C112 272 85 225 85 170 C85 110 130 72 192 72 C254 72 300 110 300 170 C300 225 273 272 242 311 L275 311 C287 311 291 301 292 283 L300 283 L300 330 L230 330 L230 300 C245 262 272 222 272 170 C272 120 245 82 192 82 C140 82 113 120 113 170 C113 222 140 262 155 300 L155 330 Z" fill="#000"/>
<text transform="matrix(0.5515 0 0 0.5401 558.53 288.04)" font-size="40" font-style="italic" fill="#000" stroke="#fff" stroke-width="0.18">q</text>
<text transform="matrix(0.8336 0 0 0.8508 610.05 284.10)" font-size="40" fill="#000" stroke="#fff" stroke-width="0.59">4</text>
<g transform="translate(0 0)" aria-label="J"><path d="M43.0 14.6 L46.8 14.6 L41.7 35.0 C40.2 41.4 36.5 45.7 31.0 45.7 C27.2 45.7 24.3 43.3 24.3 39.9 C24.3 38.3 25.3 37.2 26.7 37.2 C28.1 37.2 29.0 38.2 29.0 39.5 C29.0 40.8 28.2 41.5 27.2 41.7 C27.7 43.4 29.3 44.5 31.0 44.5 C33.8 44.5 36.4 41.0 37.9 35.0 Z" fill="#000"/><line x1="36.6" y1="14.3" x2="49.3" y2="14.3" stroke="#000" stroke-width="1.1"/></g>
<text transform="matrix(0.8596 0 0 0.7672 45.33 51.58)" font-size="40" fill="#000" stroke="#fff" stroke-width="0.25">r</text>
<text transform="matrix(0.8455 0 0 0.7756 56.23 51.68)" font-size="40" fill="#000" stroke="#fff" stroke-width="0.25">a</text>
<text transform="matrix(1.0354 0 0 0.8712 70.42 51.64)" font-size="40" fill="#000" stroke="#fff" stroke-width="0.21">t</text>
<text transform="matrix(0.7722 0 0 0.8955 83.82 51.79)" font-size="40" fill="#000">,</text>
<text transform="matrix(0.8330 0 0 0.7658 90.93 51.58)" font-size="40" fill="#000" stroke="#fff" stroke-width="0.25">x</text>
<line x1="111.3" y1="55.9" x2="127.5" y2="11.1" stroke="#000" stroke-width="1.9"/>
<g transform="translate(109.6 0)" aria-label="J"><path d="M43.0 14.6 L46.8 14.6 L41.7 35.0 C40.2 41.4 36.5 45.7 31.0 45.7 C27.2 45.7 24.3 43.3 24.3 39.9 C24.3 38.3 25.3 37.2 26.7 37.2 C28.1 37.2 29.0 38.2 29.0 39.5 C29.0 40.8 28.2 41.5 27.2 41.7 C27.7 43.4 29.3 44.5 31.0 44.5 C33.8 44.5 36.4 41.0 37.9 35.0 Z" fill="#000"/><line x1="36.6" y1="14.3" x2="49.3" y2="14.3" stroke="#000" stroke-width="1.1"/></g>
<text transform="matrix(0.7881 0 0 0.8358 155.02 52.45)" font-size="40" fill="#000" stroke="#fff" stroke-width="0.25">0</text>
<path aria-label="Ω" transform="matrix(0.1316 0 0 0.1252 637.11 397.09)" d="M85 330 L85 283 L93 283 C94 301 98 311 110 311 L143 311 C112 272 85 225 85 170 C85 110 130 72 192 72 C254 72 300 110 300 170 C300 225 273 272 242 311 L275 311 C287 311 291 301 292 283 L300 283 L300 330 L230 330 L230 300 C245 262 272 222 272 170 C272 120 245 82 192 82 C140 82 113 120 113 170 C113 222 140 262 155 300 L155 330 Z" fill="#000"/>
<text y="247" font-size="4.6" fill="#b4b4b4" font-family="Liberation Sans, sans-serif"><tspan x="-0.6">Out</tspan><tspan x="12.2">*]=</tspan></text>
</g>
</svg>
</body></html>
